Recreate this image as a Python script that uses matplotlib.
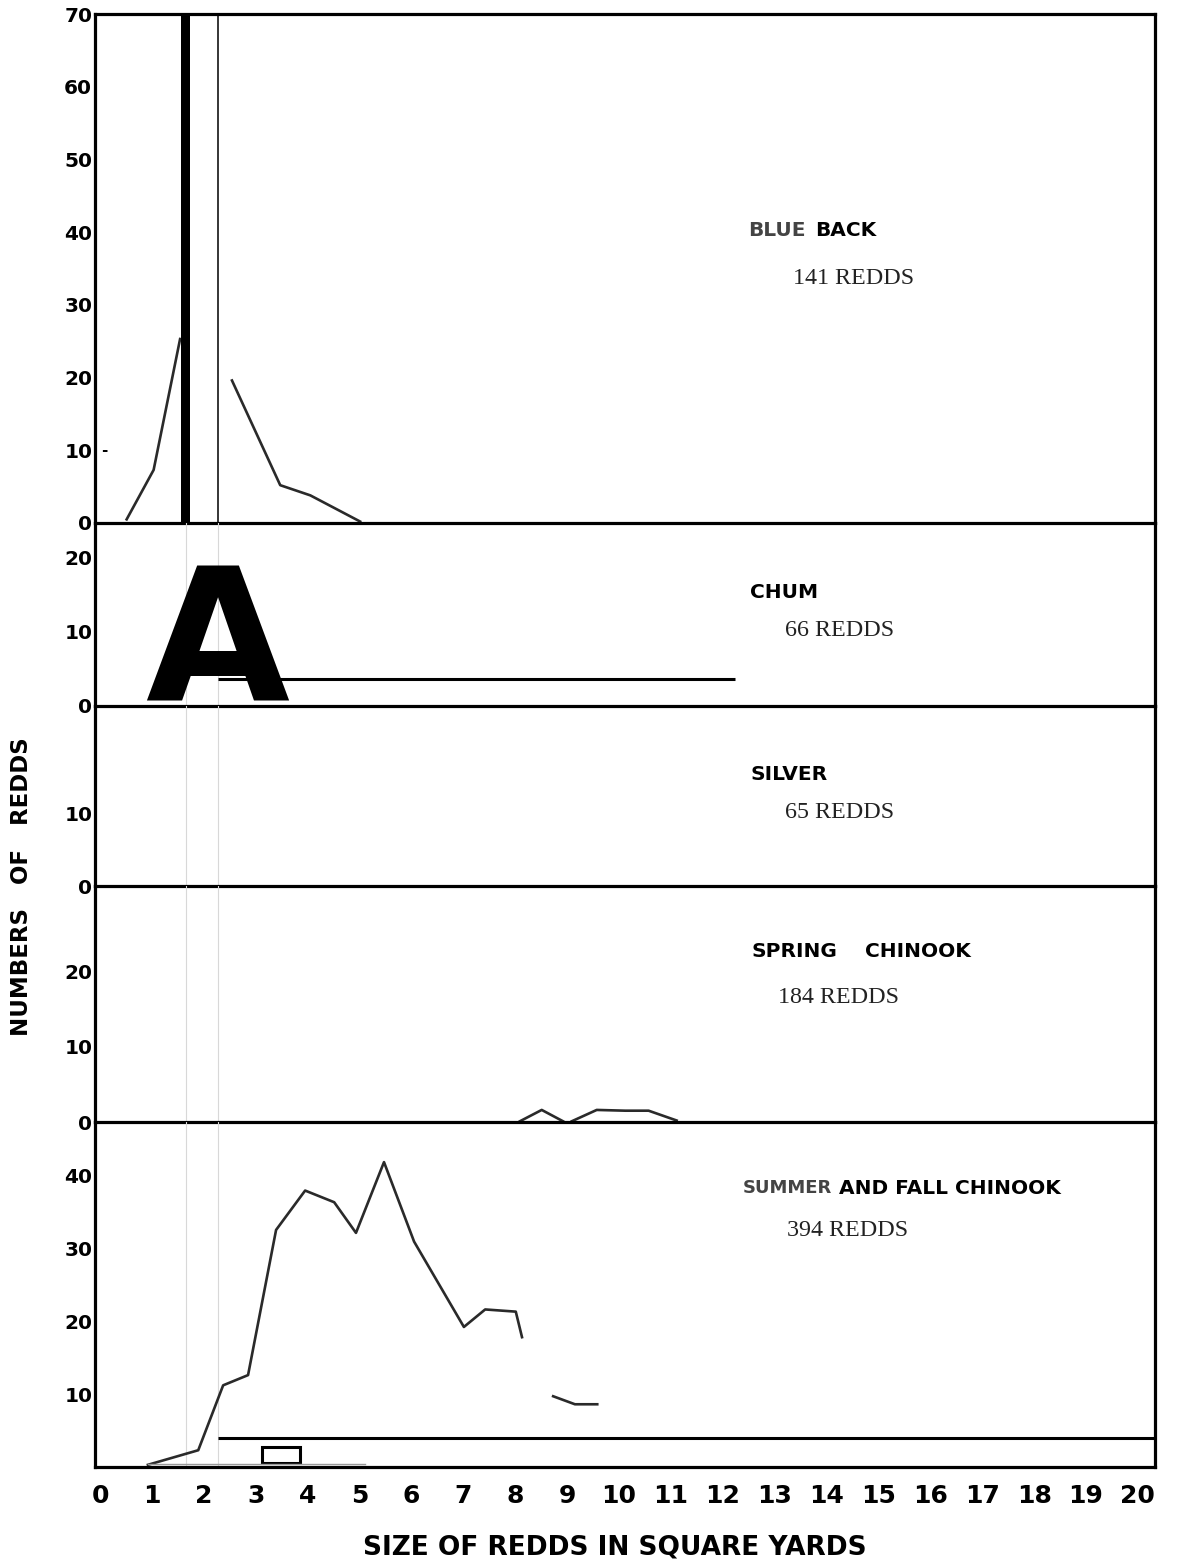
import matplotlib
matplotlib.use("Agg")
import matplotlib.pyplot as plt

W, H = 1177, 1560

# ---------------- data ----------------
x_ticks = list(range(0, 21))
x_tick_labels = [str(v) for v in x_ticks]

# Blueback (141 redds)
blueback_x1 = [0.51, 1.03, 1.54]
blueback_y1 = [0.5, 7.3, 25.3]
blueback_x2 = [2.54, 3.47, 4.05, 5.01]
blueback_y2 = [19.6, 5.2, 3.8, 0.2]
blueback_bar_x = [1.645]
blueback_bar_h = [70]
blueback_vline_x = [2.27]

# Chum (66 redds)
chum_level = [3.6]
chum_start = [2.27]
chum_end = [12.23]

# Silver (65 redds) - no visible curve

# Spring chinook (184 redds)
spring_x1 = [8.09, 8.51, 8.92]
spring_y1 = [0.1, 1.6, 0.1]
spring_x2 = [9.09, 9.57, 10.12, 10.57, 11.11]
spring_y2 = [0.1, 1.6, 1.5, 1.5, 0.2]

# Summer and fall chinook (394 redds)
summer_x1 = [0.92, 1.89, 2.37, 2.85, 3.39, 3.95, 4.51, 4.93, 5.47, 6.05,
             7.01, 7.42, 8.01, 8.13]
summer_y1 = [0.3, 2.3, 11.2, 12.6, 32.5, 37.9, 36.3, 32.1, 41.8, 30.9,
             19.2, 21.6, 21.3, 17.8]
summer_x2 = [8.73, 9.15, 9.58]
summer_y2 = [9.7, 8.6, 8.6]
summer_base_x = [0.92, 5.1]
summer_base_y = [0.4, 0.4]
summer_level = [4.0]
summer_level_start = [2.27]
summer_box_x = [3.485]
summer_box_w = [0.73]
summer_box_bottom = [0.55]
summer_box_h = [2.15]

panel_names = ["BLUEBACK", "CHUM", "SILVER", "SPRING CHINOOK",
               "SUMMER AND FALL CHINOOK"]
panel_counts = ["141 REDDS", "66 REDDS", "65 REDDS", "184 REDDS", "394 REDDS"]
panel_ylims = [70, 24.7, 24.7, 31.3, 47.3]
panel_yticks = [[0, 10, 20, 30, 40, 50, 60, 70], [0, 10, 20], [0, 10],
                [0, 10, 20], [10, 20, 30, 40]]

# ---------------- figure ----------------
fig = plt.figure(figsize=(W / 100, H / 100), dpi=100)

left_px, right_px = 95, 1155
bounds_px = [14, 523, 706, 886, 1122, 1467]
XMIN, XMAX = -0.1, 20.33
LINE = "#2a2a2a"

axes = []
for i in range(5):
    top, bot = bounds_px[i], bounds_px[i + 1]
    ax = fig.add_axes([left_px / W, 1 - bot / H, (right_px - left_px) / W,
                       (bot - top) / H])
    ax.set_xlim(XMIN, XMAX)
    ax.set_ylim(0, panel_ylims[i])
    ax.set_yticks(panel_yticks[i])
    ax.set_yticklabels([str(t) for t in panel_yticks[i]],
                       fontsize=14.5, fontweight="bold", family="DejaVu Sans")
    ax.tick_params(axis="y", length=0, pad=2)
    ax.set_xticks([])
    for s in ["left", "right", "bottom", "top"]:
        ax.spines[s].set_linewidth(2.3)
        ax.spines[s].set_color("black")
    if i > 0:
        ax.spines["top"].set_visible(False)
    ax.patch.set_alpha(0)
    axes.append(ax)

ax0, ax1, ax2, ax3, ax4 = axes

# faint scan guide lines in lower panels
for ax in axes[1:]:
    for gx in [1.66, 2.27]:
        ax.axvline(gx, color="#d8d8d8", lw=0.8, zorder=0)

# Blueback
ax0.plot(blueback_x1, blueback_y1, color=LINE, lw=1.9)
ax0.plot(blueback_x2, blueback_y2, color=LINE, lw=1.9)
ax0.bar(blueback_bar_x, blueback_bar_h, width=0.17, color="black", zorder=3)
for vx in blueback_vline_x:
    ax0.axvline(vx, color="black", lw=1.1)
ax0.text(0.02, 10, "-", fontsize=11, fontweight="bold", va="center")

# Chum
ax1.hlines(chum_level, chum_start, chum_end, color="black", lw=2.2)
ax1.text(2.25, 0.65, "A", fontsize=134, fontweight="bold",
         family="DejaVu Sans", ha="center", va="baseline",
         color="black", zorder=5)

# Spring chinook
ax3.plot(spring_x1, spring_y1, color=LINE, lw=1.9)
ax3.plot(spring_x2, spring_y2, color=LINE, lw=1.9)

# Summer and fall chinook
ax4.plot(summer_x1, summer_y1, color=LINE, lw=1.9)
ax4.plot(summer_x2, summer_y2, color=LINE, lw=1.9)
ax4.plot(summer_base_x, summer_base_y, color="#9a9a9a", lw=1.0)
ax4.hlines(summer_level, summer_level_start, XMAX, color="black", lw=2.2)
ax4.bar(summer_box_x, summer_box_h, width=summer_box_w, bottom=summer_box_bottom,
        facecolor="white", edgecolor="black", lw=2.2)

# x ticks on the bottom panel
ax4.set_xticks(x_ticks)
ax4.set_xticklabels(x_tick_labels, fontsize=18, fontweight="bold",
                    family="DejaVu Sans")
ax4.tick_params(axis="x", length=0, pad=12)

# ---------------- text ----------------
def ftext(x, y, s, **kw):
    fig.text(x / W, 1 - y / H, s, va="center", ha="left", **kw)

SANS = dict(family="DejaVu Sans", fontweight="bold", fontsize=14.5)
SERIF = dict(family="Liberation Serif", fontsize=17.3, color="#222222")

ftext(748, 231, "BLUE", color="#444444", **SANS)
ftext(815, 231, "BACK", **SANS)
ftext(793, 278, panel_counts[0], **SERIF)
ftext(750, 593, panel_names[1], **SANS)
ftext(785, 631, panel_counts[1], **SERIF)
ftext(750, 774, panel_names[2], **SANS)
ftext(785, 813, panel_counts[2], **SERIF)
ftext(751, 951, "SPRING", **SANS)
ftext(865, 951, "CHINOOK", **SANS)
ftext(778, 998, panel_counts[3], **SERIF)
ftext(743, 1188, "SUMMER", color="#444444", family="DejaVu Sans",
      fontweight="bold", fontsize=13)
ftext(839, 1188, "AND FALL CHINOOK", **SANS)
ftext(787, 1231, panel_counts[4], **SERIF)

fig.text(22 / W, 1 - 887 / H, "NUMBERS   OF   REDDS", rotation=90,
         ha="center", va="center", fontsize=16.5, fontweight="bold",
         family="DejaVu Sans")
fig.text(615 / W, 1 - 1547 / H, "SIZE OF REDDS IN SQUARE YARDS",
         ha="center", va="center", fontsize=19, fontweight="bold",
         family="DejaVu Sans")

fig.savefig("out.png", dpi=100, facecolor="white")
